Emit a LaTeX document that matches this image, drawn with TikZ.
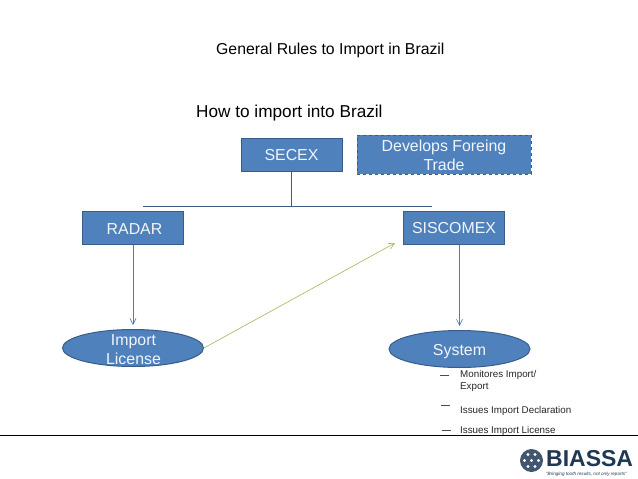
\documentclass[tikz,border=0pt]{standalone}
\usepackage{fontspec}
\setmainfont{Liberation Sans}
\usetikzlibrary{shapes.geometric}
\usetikzlibrary{arrows.meta}
\definecolor{boxfill}{RGB}{79,129,189}
\definecolor{boxline}{RGB}{56,93,138}
\definecolor{linkblue}{RGB}{74,126,187}
\definecolor{linkgreen}{RGB}{155,187,89}
\definecolor{logoblue}{RGB}{32,56,84}
\tikzset{
	bluebox/.style={draw=boxline,fill=boxfill,line width=1pt,text=white!92!boxfill,minimum width=101pt,minimum height=33pt,inner sep=0pt,font=\fontsize{15.9}{19}\selectfont,align=center},
	blueoval/.style={ellipse,draw=boxline,fill=boxfill,line width=1pt,minimum width=141pt,minimum height=37pt,inner sep=0pt},
	ovaltext/.style={text=white!92!boxfill,inner sep=0pt,font=\fontsize{15.9}{19}\selectfont,align=center},
	link/.style={draw=linkblue,line width=.6pt,-{Straight Barb[length=6pt,width=6pt]}},
	smalltext/.style={inner sep=0pt,anchor=west,align=left,font=\fontsize{9.8}{12}\selectfont,text=black!85},
	plaintext/.style={inner sep=0pt,anchor=west,text=black}
}
\begin{document}
\begin{tikzpicture}[x=1pt,y=-1pt]
	\useasboundingbox (0,0) rectangle (638,479);
	\fill[white] (0,0) rectangle (638,479);
	\node[plaintext,font=\fontsize{15.8}{18}\selectfont] (title) at (216,50) {General Rules to Import in Brazil};
	\node[plaintext,font=\fontsize{17.2}{18}\selectfont] (howto) at (196,113) {How to import into Brazil};
	\node[bluebox,text height=13pt] (secex) at (291.5,154.5) {SECEX};
	\node[bluebox,dashed,minimum width=174pt,minimum height=39pt] (develops) at (444,154.5) {\rule{0pt}{14pt}Develops Foreing\\Trade};
	\node[bluebox,text height=13pt] (radar) at (133,228) {\hspace{3pt}RADAR};
	\node[bluebox] (siscomex) at (454,228) {SISCOMEX};
	\node[blueoval] (license) at (133,348) {};
	\node[ovaltext] (licensetext) at (133.5,350) {Import\\License};
	\node[blueoval] (system) at (459.5,349) {};
	\node[ovaltext] (systemtext) at (459.5,351.5) {System};
	\coordinate (busleft) at (143,206);
	\coordinate (busright) at (432,206);
	\coordinate (busmid) at (291.5,206);
	\coordinate (greenend) at (395,243);
	\draw[draw=boxline,line width=.8pt] (busleft) -- (busright);
	\draw[draw=boxline,line width=.8pt] (secex) -- (busmid);
	\draw[link,shorten >=4pt] (radar) -- (license);
	\draw[link,shorten >=4pt] (siscomex.south -| system) -- (system);
	\draw[link,draw=linkgreen] (license.east) -- (greenend);
	% list under the oval
	\node[smalltext] (item1) at (460,381) {Monitores Import/\\Export};
	\node[smalltext] (item2) at (460,410.5) {Issues Import Declaration};
	\node[smalltext] (item3) at (460,431) {Issues Import License};
	\draw[black!70,line width=.5pt] (440,375) -- (449,375) (441,405) -- (450,405) (442,430) -- (451,430);
	\draw[black,line width=.8pt] (0,435.5) -- (638,435.5);
	% logo
	\node[inner sep=0pt,anchor=west,text=logoblue,font=\fontsize{23}{23}\selectfont\bfseries] (biassa) at (546,459) {BIASSA};
	\node[inner sep=0pt,anchor=west,text=logoblue,font=\fontsize{4.6}{6}\selectfont\itshape] (tagline) at (546,474.5) {``Bringing tooth results, not only reports''};
	\fill[logoblue!85] (531.5,460.5) circle (11.5);
	\foreach \a in {0,60,...,300}
		\fill[white] (531.5,460.5) ++(\a:7) circle (1.6);
	\fill[white] (531.5,460.5) circle (1.6);
\end{tikzpicture}
\end{document}
